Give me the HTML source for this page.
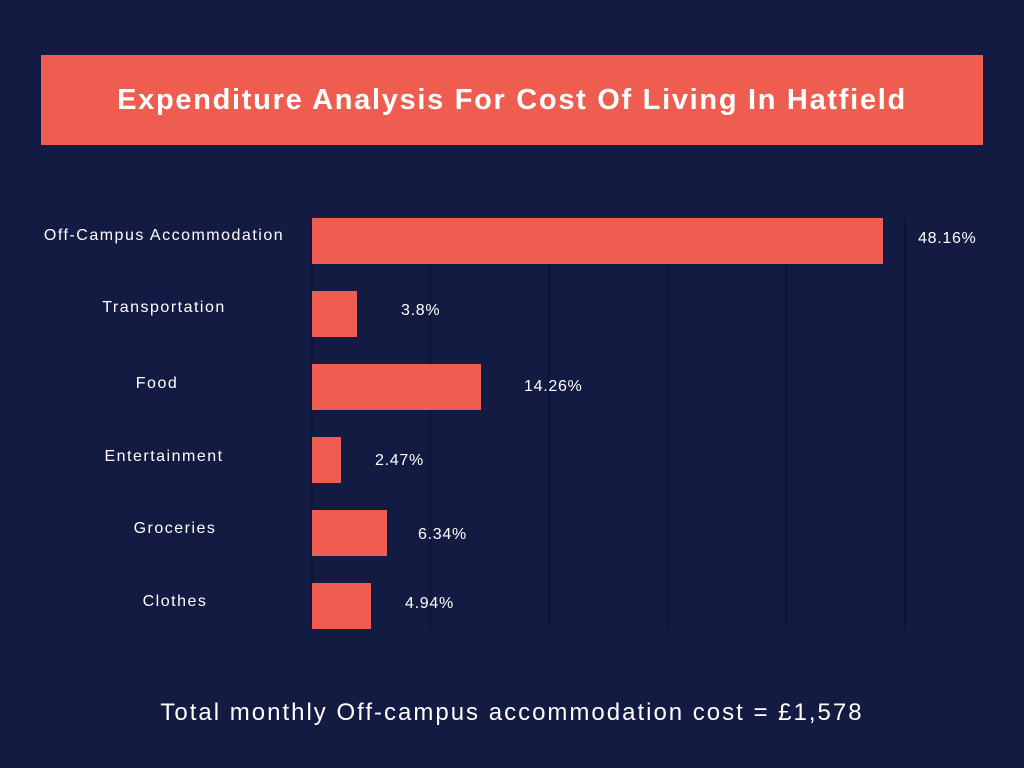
<!DOCTYPE html>
<html><head><meta charset="utf-8"><style>
html,body{margin:0;padding:0}
body{width:1024px;height:768px;background:#131b42;position:relative;overflow:hidden;font-family:"Liberation Sans",sans-serif;color:#fff}
.banner{position:absolute;left:41px;top:55px;width:942px;height:90px;background:#ef5d50;display:flex;align-items:center;justify-content:center;font-weight:bold;font-size:29px;letter-spacing:1.7px}
.t{position:absolute;font-size:16px;white-space:nowrap;letter-spacing:0.7px}
.c{transform:translateX(-50%);font-size:16px;letter-spacing:1.5px}
.foot{position:absolute;left:0;width:1024px;top:699px;text-align:center;font-size:24px;letter-spacing:2px}
</style></head><body>
<div class="banner">Expenditure Analysis For Cost Of Living In Hatfield</div>
<svg width="1024" height="768" style="position:absolute;left:0;top:0">
<g stroke="#0c1334" stroke-width="1.5">
<line x1="312" y1="218" x2="312" y2="629"/><line x1="430.6" y1="218" x2="430.6" y2="629"/><line x1="549.2" y1="218" x2="549.2" y2="629"/><line x1="667.8" y1="218" x2="667.8" y2="629"/><line x1="786.4" y1="218" x2="786.4" y2="629"/><line x1="905" y1="218" x2="905" y2="629"/>
</g>
<g fill="#ef5d50">
<rect x="312" y="218" width="571" height="46"/>
<rect x="312" y="291" width="45" height="46"/>
<rect x="312" y="364" width="169" height="46"/>
<rect x="312" y="437" width="29" height="46"/>
<rect x="312" y="510" width="75" height="46"/>
<rect x="312" y="583" width="59" height="46"/>
</g>
</svg>
<div class="t c" style="left:164px;top:227px">Off-Campus Accommodation</div>
<div class="t c" style="left:164px;top:299px">Transportation</div>
<div class="t c" style="left:157px;top:375px">Food</div>
<div class="t c" style="left:164px;top:448px">Entertainment</div>
<div class="t c" style="left:175px;top:520px">Groceries</div>
<div class="t c" style="left:175px;top:593px">Clothes</div>
<div class="t" style="left:918px;top:230px">48.16%</div>
<div class="t" style="left:401px;top:302px">3.8%</div>
<div class="t" style="left:524px;top:378px">14.26%</div>
<div class="t" style="left:375px;top:452px">2.47%</div>
<div class="t" style="left:418px;top:526px">6.34%</div>
<div class="t" style="left:405px;top:595px">4.94%</div>
<div class="foot">Total monthly Off-campus accommodation cost = £1,578</div>
</body></html>
